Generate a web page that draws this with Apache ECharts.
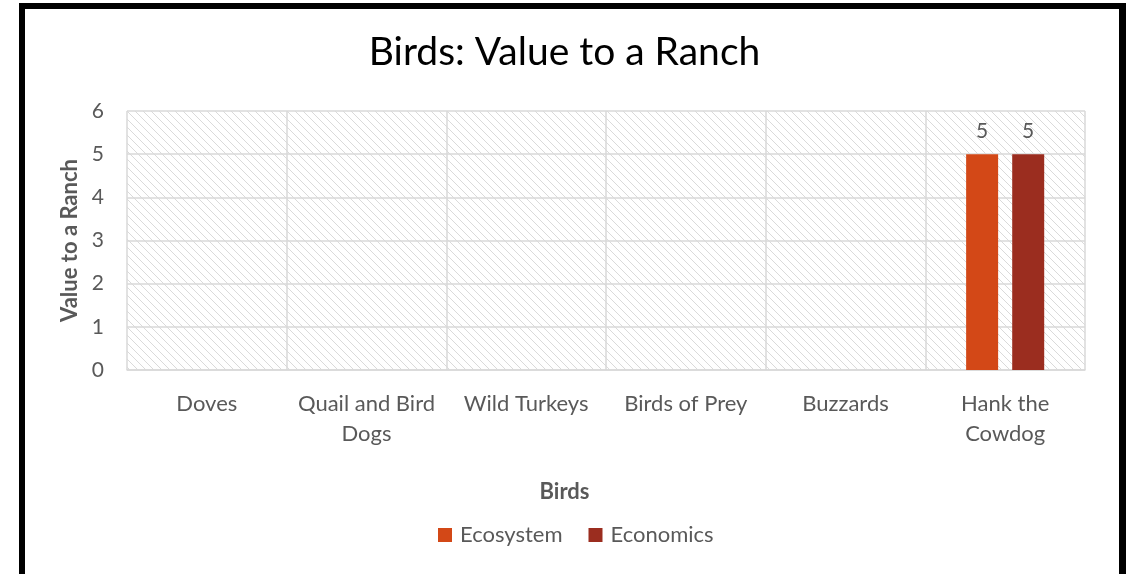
<!DOCTYPE html>
<html>
<head>
<meta charset="utf-8">
<script src="https://cdn.jsdelivr.net/npm/echarts@6/dist/echarts.min.js"></script>
<style>
  html, body { margin: 0; padding: 0; background: #fff; }
  .frame {
    position: absolute; left: 19px; top: 3px; width: 1094px; height: 566px;
    border-style: solid; border-color: #000;
    border-width: 6px 7px 2px 6px;
  }
  #chart { position: absolute; left: 0; top: 0; width: 1129px; height: 574px; }
</style>
</head>
<body>
<div class="frame"></div>
<div id="chart"></div>
<script>
  // 数据
  var categories = ['Doves', 'Quail and Bird\nDogs', 'Wild Turkeys', 'Birds of Prey', 'Buzzards', 'Hank the\nCowdog'];
  var ecosystem = [null, null, null, null, null, 5];
  var economics = [null, null, null, null, null, 5];
  var seriesNames = ['Ecosystem', 'Economics'];

  // 斜线填充的背景
  function hatch() {
    var c = document.createElement('canvas');
    c.width = 8; c.height = 8;
    var ctx = c.getContext('2d');
    ctx.fillStyle = '#ffffff';
    ctx.fillRect(0, 0, 8, 8);
    ctx.strokeStyle = '#dadada';
    ctx.lineWidth = 1;
    ctx.beginPath();
    ctx.moveTo(-1, -1); ctx.lineTo(9, 9);
    ctx.moveTo(-5, 3); ctx.lineTo(5, 13);
    ctx.moveTo(3, -5); ctx.lineTo(13, 5);
    ctx.stroke();
    return c;
  }

  var font = 'Lato, "Noto Sans", sans-serif';
  var myChart = echarts.init(document.getElementById('chart'));
  var option = {
    animation: false,
    textStyle: { fontFamily: font },
    color: ['#D34817', '#9B2D1F'],
    title: [
      {
        text: 'Birds: Value to a Ranch',
        left: 'center',
        top: 28,
        textStyle: { fontFamily: font, fontSize: 39, fontWeight: 'normal', color: '#000' }
      },
      {
        // x轴标题，居中于整个图
        text: 'Birds',
        left: 'center',
        top: 476,
        textStyle: { fontFamily: font, fontSize: 22, fontWeight: 'bold', color: '#595959' }
      }
    ],
    legend: {
      data: seriesNames,
      bottom: 23,
      left: 433,
      itemWidth: 14,
      itemHeight: 14,
      itemGap: 26,
      icon: 'rect',
      textStyle: { fontSize: 22, color: '#595959', padding: [0, 0, 0, 3] }
    },
    grid: {
      left: 127,
      right: 44,
      top: 111,
      bottom: 204,
      show: true,
      borderWidth: 0,
      backgroundColor: { image: hatch(), repeat: 'repeat' }
    },
    xAxis: {
      type: 'category',
      data: categories,
      axisLine: { lineStyle: { color: '#d9d9d9', width: 1.5 } },
      axisTick: { show: false },
      splitLine: { show: true, lineStyle: { color: '#d9d9d9', width: 1.5 } },
      axisLabel: {
        interval: 0,
        margin: 19,
        fontSize: 22,
        lineHeight: 30,
        color: '#595959',
        verticalAlign: 'top'
      }
    },
    yAxis: {
      type: 'value',
      min: 0,
      max: 6,
      interval: 1,
      name: 'Value to a Ranch',
      nameLocation: 'middle',
      nameGap: 46,
      nameTextStyle: { fontSize: 22, fontWeight: 'bold', color: '#595959' },
      axisLabel: { fontSize: 21, color: '#595959', margin: 23 },
      splitLine: { lineStyle: { color: '#d9d9d9', width: 1.5 } }
    },
    series: [
      {
        name: seriesNames[0],
        type: 'bar',
        data: ecosystem,
        barWidth: 32,
        barGap: '44%',
        label: { show: true, position: 'top', distance: 12, fontSize: 21, color: '#595959' }
      },
      {
        name: seriesNames[1],
        type: 'bar',
        data: economics,
        barWidth: 32,
        barGap: '44%',
        label: { show: true, position: 'top', distance: 12, fontSize: 21, color: '#595959' }
      }
    ]
  };
  myChart.setOption(option);
</script>
</body>
</html>
